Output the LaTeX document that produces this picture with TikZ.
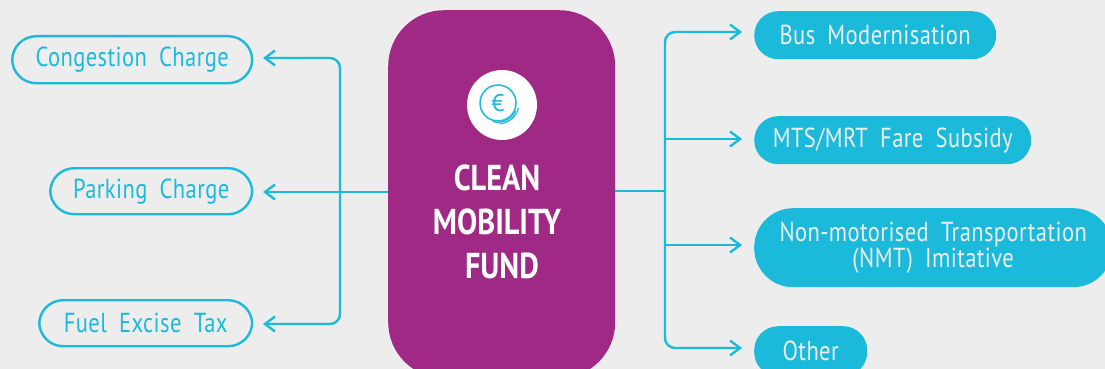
\documentclass[tikz,border=0pt]{standalone}
\usepackage{fontspec}
\setmainfont{PT Sans}
\usetikzlibrary{arrows.meta,calc}
\definecolor{bgc}{HTML}{EDEDED}
\definecolor{cy}{HTML}{1BBADB}
\definecolor{pu}{HTML}{A02985}
\newfontfamily\lab[WordSpace=1.9,LetterSpace=1.5,FakeStretch=0.82]{PT Sans}
\newfontfamily\ttl[LetterSpace=0,FakeStretch=0.84]{PT Sans Bold}
\newcommand\lowr[1]{\raisebox{-1.8pt}{#1}}
\tikzset{
 pill/.style={rectangle,rounded corners=24pt,anchor=north west,inner sep=0pt,font=\lab\fontsize{27.5}{24}\selectfont,align=center},
 outpill/.style={pill,draw=cy,line width=2.4pt,text=cy},
 fillpill/.style={pill,fill=cy,text=bgc},
 conn/.style={draw=cy,line width=2.4pt},
 arr/.style={conn,-{Straight Barb[length=10pt,width=15pt,line width=2.4pt]}},
}
\begin{document}
\begin{tikzpicture}[x=1pt,y=-1pt]
\useasboundingbox (0,0) rectangle (1105,369);
\clip (0,0) rectangle (1105,369);
\fill[bgc] (0,0) rectangle (1105,369);
% central box
\node[rectangle,fill=pu,rounded corners=56pt,anchor=north west,minimum width=227pt,minimum height=368pt,inner sep=0pt] (fund) at (388,10) {};
\node[circle,fill=white,minimum size=70pt,inner sep=0pt] (disc) at (502,105) {};
\node[circle,draw=cy,line width=1.5pt,minimum size=36pt,inner sep=0pt,text=cy,font=\fontsize{24}{24}\selectfont] (coin) at (498,103) {€};
\draw[cy,line width=1.2pt] ($(coin)+(17.5,8)$) arc[start angle=-25,end angle=-105,radius=19.5pt];
\draw[cy,line width=1.2pt] ($(coin)+(20.5,5)$) arc[start angle=-15,end angle=-85,radius=21.5pt];
\node[text=white,font=\ttl\fontsize{36}{44}\selectfont,align=center,inner sep=0pt] (title) at (497,222) {CLEAN\\MOBILITY\\\hspace*{10pt}FUND};
% left pills
\node[outpill,minimum width=240pt,minimum height=47pt] (cong) at (11,35) {\lowr{Congestion Charge}};
\node[outpill,minimum width=202pt,minimum height=46pt] (park) at (49,167) {\lowr{Parking Charge}};
\node[outpill,minimum width=213pt,minimum height=46pt] (fuel) at (38,299) {\lowr{Fuel Excise Tax}};
% right pills
\node[fillpill,minimum width=242pt,minimum height=48pt] (bus) at (754,11) {Bus Modernisation};
\node[fillpill,minimum width=277pt,minimum height=48pt] (mts) at (754,116) {\lowr{MTS/MRT Fare Subsidy}};
\node[fillpill,rounded corners=39pt,minimum width=358pt,minimum height=79pt] (nmt) at (754,208) {\lowr{Non-motorised Transportation}\\\lowr{(NMT) Imitative}};
\node[fillpill,minimum width=113pt,minimum height=50pt] (other) at (754,326) {Other};
% junctions
\coordinate (jl) at (340,192);
\coordinate (jr) at (665,191);
\coordinate (ac) at (263,58);
\coordinate (ap) at (263,192);
\coordinate (af) at (263,324);
\coordinate (ab) at (742,32);
\coordinate (am) at (742,139);
\coordinate (an) at (742,245);
\coordinate (ao) at (742,348);
% connectors
\draw[arr] (fund.west |- ap) -- (ap);
\draw[arr,rounded corners=10pt] (jl) -- (jl |- ac) -- (ac);
\draw[arr,rounded corners=10pt] (jl) -- (jl |- af) -- (af);
\draw[conn] (fund.east |- jr) -- (jr);
\draw[arr,rounded corners=10pt] (jr) -- (jr |- ab) -- (ab);
\draw[arr,rounded corners=10pt] (jr) -- (jr |- ao) -- (ao);
\draw[arr] (jr |- am) -- (am);
\draw[arr] (jr |- an) -- (an);
\end{tikzpicture}
\end{document}
